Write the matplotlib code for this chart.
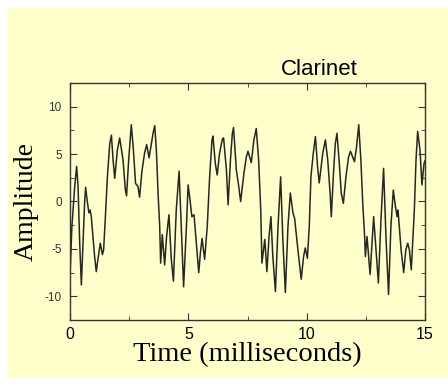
import numpy as np
import matplotlib
matplotlib.use('Agg')
import matplotlib.pyplot as plt
from matplotlib.patches import Rectangle
from matplotlib.ticker import MultipleLocator

plt.rcParams['axes.unicode_minus'] = False

BG = '#FFFFCC'

# waveform (time in ms, amplitude)
time_ms = [0.00, 0.08, 0.20, 0.28, 0.34, 0.41, 0.48, 0.55, 0.62, 0.66,
           0.73, 0.80, 0.85, 0.90, 0.97, 1.04, 1.11, 1.18, 1.28, 1.37,
           1.42, 1.49, 1.58, 1.68, 1.75, 1.82, 1.89, 2.00, 2.10, 2.24,
           2.34, 2.39, 2.48, 2.59, 2.68, 2.77, 2.87, 2.94, 3.04, 3.15,
           3.24, 3.34, 3.51, 3.58, 3.65, 3.72, 3.79, 3.83, 3.90, 4.00,
           4.08, 4.18, 4.28, 4.37, 4.49, 4.61, 4.70, 4.80, 4.92, 4.99,
           5.06, 5.15, 5.24, 5.34, 5.44, 5.51, 5.58, 5.69, 5.80, 5.90,
           6.00, 6.04, 6.14, 6.22, 6.32, 6.44, 6.49, 6.61, 6.68, 6.78,
           6.86, 6.91, 7.03, 7.13, 7.21, 7.35, 7.45, 7.52, 7.66, 7.77,
           7.87, 7.97, 8.06, 8.11, 8.23, 8.32, 8.41, 8.49, 8.57, 8.68,
           8.79, 8.90, 9.00, 9.10, 9.21, 9.31, 9.42, 9.49, 9.63, 9.77,
           9.87, 9.94, 10.03, 10.11, 10.18, 10.28, 10.37, 10.46, 10.53, 10.68,
           10.79, 10.89, 10.99, 11.04, 11.14, 11.21, 11.28, 11.38, 11.46, 11.55,
           11.66, 11.77, 11.85, 12.02, 12.11, 12.20, 12.29, 12.37, 12.45, 12.48,
           12.55, 12.68, 12.76, 12.83, 12.93, 13.03, 13.14, 13.25, 13.35, 13.46,
           13.56, 13.66, 13.75, 13.82, 13.86, 13.99, 14.10, 14.19, 14.27, 14.34,
           14.42, 14.55, 14.62, 14.69, 14.79, 14.87, 14.96, 15.00]
amplitude = [-7.9, -2.6, 1.6, 3.7, 1.6, -4.4, -8.8, -4.4, 0.0, 1.5,
             0.0, -1.2, -0.9, -1.6, -3.7, -5.8, -7.4, -6.1, -4.4, -5.6,
             -5.1, -1.9, 2.6, 6.1, 7.0, 4.4, 2.45, 5.4, 6.7, 4.4,
             1.2, 0.6, 4.4, 8.1, 5.4, 1.9, 1.6, 0.45, 3.2, 5.1,
             6.0, 4.6, 7.2, 8.0, 5.4, 0.9, -2.6, -6.5, -3.5, -6.7,
             -3.7, -1.4, -6.1, -8.4, -0.9, 3.2, -2.6, -9.0, -2.6, 1.75,
             0.4, -1.6, -1.4, -4.4, -7.5, -5.4, -3.9, -6.1, -2.6, 2.6,
             6.5, 6.9, 4.0, 2.8, 5.1, 6.6, 6.7, 3.3, -0.35, 4.4,
             7.2, 7.8, 3.3, 1.6, 0.0, 3.0, 4.7, 5.3, 4.1, 6.5,
             7.7, 4.4, -0.9, -6.5, -4.0, -7.4, -3.7, -1.6, -5.8, -9.5,
             -2.6, 2.6, -4.4, -9.6, -2.6, 0.9, -1.2, -1.75, -5.1, -8.2,
             -5.8, -4.9, -6.0, -2.6, 2.6, 5.1, 6.85, 3.7, 1.95, 5.1,
             6.5, 4.4, 0.9, -1.6, 3.3, 6.1, 7.2, 4.0, 0.9, -0.2,
             2.6, 4.7, 5.3, 4.2, 5.8, 8.1, 4.4, -0.2, -3.7, -5.8,
             -3.7, -7.7, -4.4, -1.6, -5.1, -8.6, -1.9, 3.5, -3.7, -9.8,
             -2.6, 1.2, -0.5, -1.6, -0.9, -5.1, -7.5, -5.1, -4.4, -5.1,
             -7.2, -0.9, 4.4, 7.4, 5.4, 1.75, 4.0, 4.3]

x_ticks = [0, 5, 10, 15]
y_ticks = [-10, -5, 0, 5, 10]

fig = plt.figure(figsize=(4.48, 3.88), dpi=100, facecolor='white')
fig.add_artist(Rectangle((8/448, 10/388), 1 - 8/448, 370/388,
                         transform=fig.transFigure, facecolor=BG,
                         edgecolor='none', zorder=-10))

ax = fig.add_axes([70/448, 68/388, 355/448, 237/388])
ax.set_facecolor(BG)
ax.plot(time_ms, amplitude, color='#262626', lw=1.1)

ax.set_xlim(0, 15)
ax.set_ylim(-12.5, 12.5)
ax.set_xticks(x_ticks)
ax.set_yticks(y_ticks)
ax.xaxis.set_minor_locator(MultipleLocator(2.5))
ax.yaxis.set_minor_locator(MultipleLocator(2.5))
ax.tick_params(which='both', direction='in', top=True, right=True, color='#333333')
ax.tick_params(which='major', length=5)
ax.tick_params(which='minor', length=3)
ax.tick_params(axis='x', labelsize=11.5, pad=5, labelcolor='black')
ax.tick_params(axis='y', labelsize=8.5, pad=6, labelcolor='#333333')
for lab in ax.get_xticklabels() + ax.get_yticklabels():
    lab.set_family('Liberation Sans')
for s in ax.spines.values():
    s.set_color('#333333')
    s.set_linewidth(1.0)

ax.set_xlabel('Time (milliseconds)', family='Liberation Serif', fontsize=20.5, labelpad=0)
ax.set_ylabel('Amplitude', family='Liberation Serif', fontsize=20, labelpad=4)
fig.text(0.712, 0.822, 'Clarinet', family='Liberation Sans', fontsize=16,
         ha='center', va='center')

fig.savefig('out.png', dpi=100, facecolor=fig.get_facecolor())
